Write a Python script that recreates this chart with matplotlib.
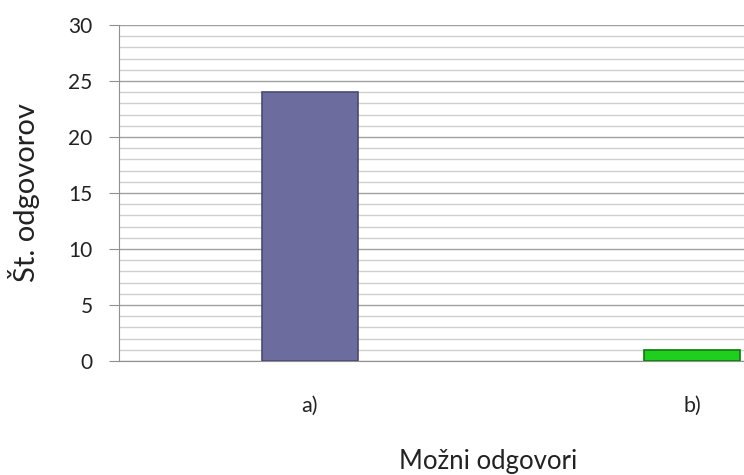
import matplotlib
matplotlib.use("Agg")
import matplotlib.pyplot as plt
from matplotlib.ticker import MultipleLocator

categories = ["a)", "b)"]
values = [24, 1]
colors = ["#6c6c9e", "#1ecf1e"]
edges = ["#4a4a74", "#0e7a0e"]

plt.rcParams['font.family'] = ['Lato', 'DejaVu Sans']

fig = plt.figure(figsize=(7.44, 4.75), dpi=100)
ax = fig.add_axes([119/744, 114/475, 764/744, 336/475])

x = list(range(len(categories)))
ax.bar(x, values, width=0.25, color=colors, edgecolor=edges, linewidth=1.2, zorder=3)

ax.set_xlim(-0.5, 1.5)
ax.set_ylim(0, 30)
ax.yaxis.set_major_locator(MultipleLocator(5))
ax.yaxis.set_minor_locator(MultipleLocator(1))
ax.grid(axis='y', which='major', color='#a0a0a0', linewidth=1.0, zorder=0)
ax.grid(axis='y', which='minor', color='#cfcfcf', linewidth=1.0, zorder=0)

for s in ['top', 'right']:
    ax.spines[s].set_visible(False)
ax.spines['left'].set_color('#909090')
ax.spines['bottom'].set_color('#909090')

ax.set_xticks(x)
ax.set_xticklabels(categories, fontsize=15.5, color='#222222')
ax.tick_params(axis='x', length=0, pad=25)
ax.tick_params(axis='y', which='major', length=7, color='#909090', labelsize=15, labelcolor='#222222', pad=12)
ax.tick_params(axis='y', which='minor', length=0)

ax.set_ylabel("Št. odgovorov", fontsize=21, color='#222222')
ax.yaxis.set_label_coords(-79/764, 0.5)
fig.text(488/744, 1 - 461/475, "Možni odgovori", fontsize=18.5, color='#222222', ha='center', va='center')

fig.savefig("out.png", dpi=100)
